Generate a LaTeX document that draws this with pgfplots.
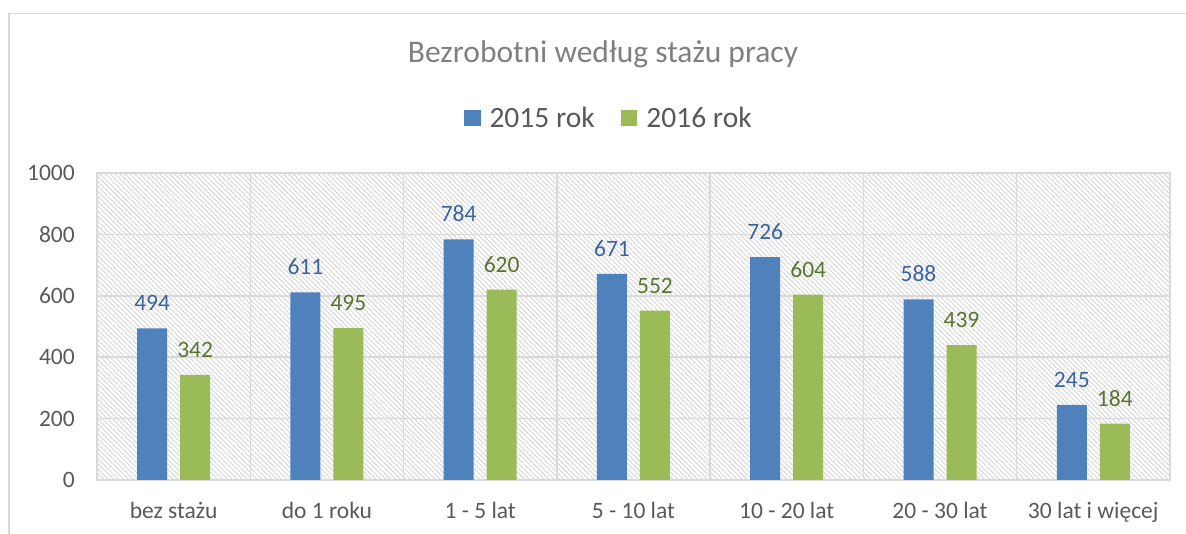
\documentclass[border=0pt]{standalone}
\usepackage{fontspec}
\setmainfont{Carlito}
\usepackage{pgfplots}
\pgfplotsset{compat=1.18}
\usetikzlibrary{patterns.meta}
\definecolor{bblue}{HTML}{4F81BD}
\definecolor{bgreen}{HTML}{9BBB59}
\definecolor{lblue}{HTML}{3A64A0}
\definecolor{lgreen}{HTML}{5B7430}
\definecolor{tgray}{HTML}{595959}
\definecolor{titlegray}{HTML}{7F7F7F}
\definecolor{gridc}{HTML}{D9D9D9}
\begin{document}
\begin{tikzpicture}
\useasboundingbox (-97pt,-54pt) rectangle (1089pt,480pt);
\draw[gridc, line width=1.5pt] (-88pt,-60pt) -- (-88pt,466.5pt) -- (1100pt,466.5pt);
\node[anchor=base, font=\fontsize{31.5}{36}\selectfont, text=titlegray] at (506pt,417pt) {Bezrobotni według stażu pracy};
\begin{axis}[
  at={(0pt,0pt)}, anchor=south west,
  scale only axis, width=1073pt, height=307pt,
  xmin=-0.5, xmax=6.5, ymin=0, ymax=1000,
  ytick={0,200,...,1000},
  xtick={0,...,6},
  xticklabels={bez stażu, do 1 roku, 1 - 5 lat, 5 - 10 lat, 10 - 20 lat, 20 - 30 lat, 30 lat i więcej},
  minor xtick={-0.5,0.5,...,6.5},
  xminorgrids, ymajorgrids,
  major tick length=0pt, minor tick length=0pt,
  axis line style={gridc, line width=1.5pt},
  grid style={gridc, line width=1.5pt},
  minor grid style={gridc, line width=1.5pt},
  axis background/.style={pattern={Lines[angle=-45,distance=3.5pt,line width=0.9pt]}, pattern color=black!17},
  /pgf/number format/assume math mode=true,
  /pgf/number format/1000 sep={},
  ticklabel style={font=\fontsize{23.5}{28}\selectfont, text=tgray},
  xticklabel style={anchor=base, inner sep=0pt, yshift=-39pt},
  yticklabel style={anchor=east, inner sep=0pt, xshift=-22pt},
  ybar, bar width=30pt,
  nodes near coords,
  nodes near coords style={font=\fontsize{23.5}{28}\selectfont, anchor=base, inner sep=0pt, yshift=17.5pt},
  legend style={at={(0.477,1.179)}, anchor=center, draw=none, fill=none,
    legend columns=2, font=\fontsize{29.5}{34}\selectfont, text=tgray,
    /tikz/every odd column/.append style={column sep=7pt},
    /tikz/every even column/.append style={column sep=24pt}},
]
\addplot[fill=bblue, draw=none, bar shift=-21.5pt, every node near coord/.append style={text=lblue},
  legend image code/.code={\fill[bblue] (0pt,-8.3pt) rectangle (16.7pt,8.3pt);}]
  coordinates {(0,494) (1,611) (2,784) (3,671) (4,726) (5,588) (6,245)};
\addlegendentry{2015 rok}
\addplot[fill=bgreen, draw=none, bar shift=21.5pt, every node near coord/.append style={text=lgreen},
  legend image code/.code={\fill[bgreen] (0pt,-8.3pt) rectangle (16.7pt,8.3pt);}]
  coordinates {(0,342) (1,495) (2,620) (3,552) (4,604) (5,439) (6,184)};
\addlegendentry{2016 rok}
\end{axis}
\end{tikzpicture}
\end{document}
